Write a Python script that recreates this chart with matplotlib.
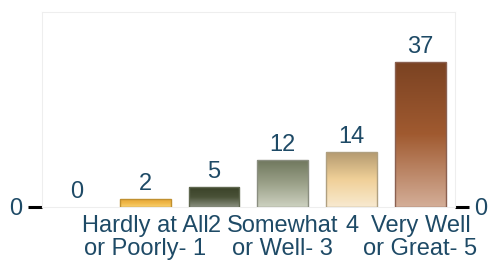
import numpy as np
import matplotlib.pyplot as plt
from matplotlib.colors import LinearSegmentedColormap

plt.rcParams['font.family'] = ['Liberation Sans', 'DejaVu Sans']

categories = ["", "Hardly at All\nor Poorly- 1", "2", "Somewhat\nor Well- 3", "4", "Very Well\nor Great- 5"]
counts = [0, 2, 5, 12, 14, 37]

# gradient stops per bar: bottom -> top
gradients = [
    ["#f0c060", "#f0c060"],
    ["#f8d070", "#f0b848", "#e8a838"],
    ["#8a9080", "#4a5238", "#3a4228"],
    ["#cdd1c0", "#9aa088", "#6e765c"],
    ["#f8ead0", "#f0d098", "#b49a70"],
    ["#d4ae98", "#a05a30", "#7a4222"],
]
edges = ["#c8c8c8", "#c09030", "#606850", "#8a8e80", "#b0a080", "#8a6050"]
txt = "#1e4a66"
fs = 17

fig, ax = plt.subplots(figsize=(4.89, 2.65), dpi=100)
fig.subplots_adjust(left=0.086, right=0.930, top=0.955, bottom=0.219)

x = np.arange(len(categories))
bars = ax.bar(x, counts, width=0.74, color="none", edgecolor="none", zorder=2)

grad = np.linspace(0, 1, 256).reshape(-1, 1)
for b, stops, ec in zip(bars, gradients, edges):
    h = b.get_height()
    if h <= 0:
        continue
    cmap = LinearSegmentedColormap.from_list("g", stops)
    x0 = b.get_x()
    im = ax.imshow(grad, cmap=cmap, origin="lower", aspect="auto",
                   extent=[x0, x0 + b.get_width(), 0, h], zorder=2)
    im.set_clip_path(b)
    b.set_edgecolor(ec)
    b.set_linewidth(1.0)
    b.set_zorder(3)

for xi, v in zip(x, counts):
    ax.text(xi, v + 1.0, str(v), ha="center", va="bottom", fontsize=fs, color=txt)

ax.set_xlim(-0.5, len(categories) - 0.5)
ax.set_ylim(0, 49.7)
ax.set_xticks(x)
ax.set_xticklabels(categories, fontsize=fs, color=txt, linespacing=1.05)
ax.tick_params(axis="x", length=0, pad=6)
ax.set_yticks([0])
ax.set_yticklabels(["0"], fontsize=fs, color=txt)
ax.tick_params(axis="y", length=10, width=2.2, color="black", pad=4,
               left=True, right=True, labelleft=True, labelright=True)

for s in ax.spines.values():
    s.set_color("#eeeeee")
    s.set_linewidth(0.8)

fig.savefig("out.png", dpi=100)
